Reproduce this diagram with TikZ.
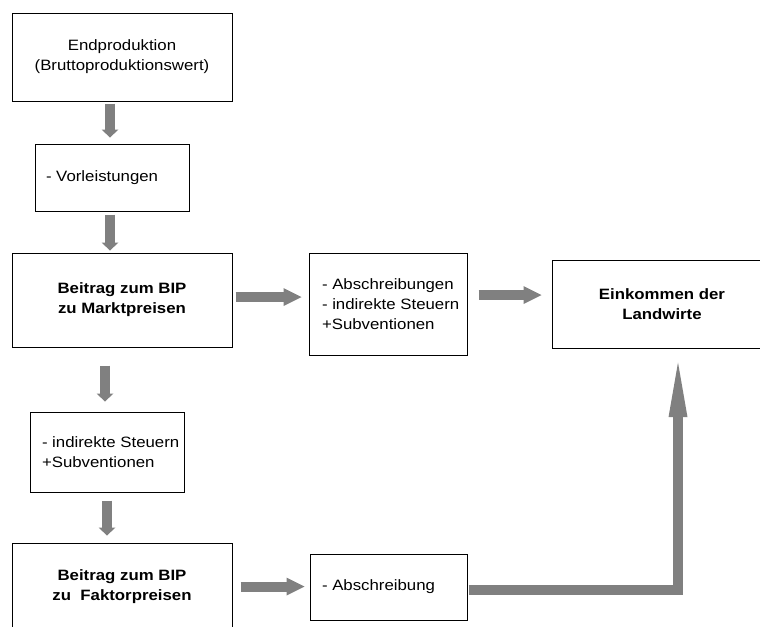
\documentclass[tikz,border=0pt]{standalone}
\usepackage{fontspec}
\setmainfont[FakeStretch=1.12]{Liberation Sans}
\usetikzlibrary{arrows.meta}
\definecolor{pfeilgrau}{HTML}{808080}

\begin{document}
\begin{tikzpicture}[x=0.75pt,y=-0.75pt,
  box/.style={draw, line width=0.75pt, inner sep=0pt, font=\fontsize{11.25}{15}\selectfont},
  mittebox/.style={box, align=center, minimum width=165pt},
  fettbox/.style={mittebox, font=\fontsize{11.25}{15}\selectfont\bfseries},
  linksbox/.style={box, align=flush left},
  pfeil/.style={pfeilgrau, line width=7.5pt, -{Triangle[length=6pt,width=12.75pt,line width=0pt]}},
  querpfeil/.style={pfeilgrau, line width=7.5pt, -{Triangle[length=13.5pt,width=13.5pt,line width=0pt]}}]
  \useasboundingbox (0,0) rectangle (760,626);
  \clip (0,0) rectangle (760,626);

  % linke Spalte
  \node[mittebox, minimum height=66pt] (endprod) at (122,57) {Endproduktion\\(Bruttoproduktionswert)};
  \node[linksbox, inner xsep=8.25pt, text width=99pt, minimum height=50.25pt] (vorl) at (112,177.5) {\mbox{- Vorleistungen}};
  \node[fettbox, minimum height=70.5pt] (bipmarkt) at (122,300) {Beitrag zum BIP\\zu Marktpreisen};
  \node[linksbox, inner xsep=9pt, text width=97.5pt, minimum height=60pt] (steuern) at (107,452) {\mbox{- indirekte Steuern}\\+Subventionen};
  \node[fettbox, minimum height=65.25pt] (bipfaktor) at (122,586.5) {Beitrag zum BIP\\zu~~Faktorpreisen};

  % rechte Seite
  \node[linksbox, inner xsep=9.75pt, text width=99pt, minimum height=76.5pt] (abzuege) at (388,304) {\mbox{- Abschreibungen}\\\mbox{- indirekte Steuern}\\+Subventionen};
  \node[linksbox, inner xsep=9pt, text width=99.75pt, minimum height=49.5pt] (abschr) at (388.5,587) {\mbox{- Abschreibung}};
  \node[fettbox, minimum height=66pt] (einkommen) at (662,304) {Einkommen der\\Landwirte};

  \coordinate (sp1) at (110,0);
  \coordinate (sp2) at (105,0);
  \coordinate (sp3) at (107,0);
  \coordinate (knick) at (678,590);

  \draw[pfeil, shorten <=1.5pt, shorten >=4.5pt] (endprod.south -| sp1) -- (vorl.north -| sp1);
  \draw[pfeil, shorten <=2.25pt, shorten >=1.5pt] (vorl.south -| sp1) -- (bipmarkt.north -| sp1);
  \draw[pfeil, shorten <=13.5pt, shorten >=7.5pt] (bipmarkt.south -| sp2) -- (steuern.north -| sp2);
  \draw[pfeil, shorten <=6pt, shorten >=5.25pt] (steuern.south -| sp3) -- (bipfaktor.north -| sp3);

  \draw[querpfeil, shorten <=2.25pt, shorten >=5.25pt] ([yshift=2.25pt]bipmarkt.east) coordinate (q1) -- (abzuege.west |- q1);
  \draw[querpfeil, shorten <=8.25pt, shorten >=7.5pt] ([yshift=6.75pt]abzuege.east) coordinate (q2) -- (einkommen.west |- q2);
  \draw[querpfeil, shorten <=6pt, shorten >=3.75pt] (bipfaktor.east) -- (abschr.west |- bipfaktor.east);

  \draw[pfeilgrau, line width=7.5pt, line join=miter, -{Triangle[length=41pt,width=14.25pt,line width=0pt]}, shorten <=0.75pt, shorten >=10.5pt]
    (abschr.east |- knick) -- (knick) -- (einkommen.south -| knick);
\end{tikzpicture}
\end{document}
